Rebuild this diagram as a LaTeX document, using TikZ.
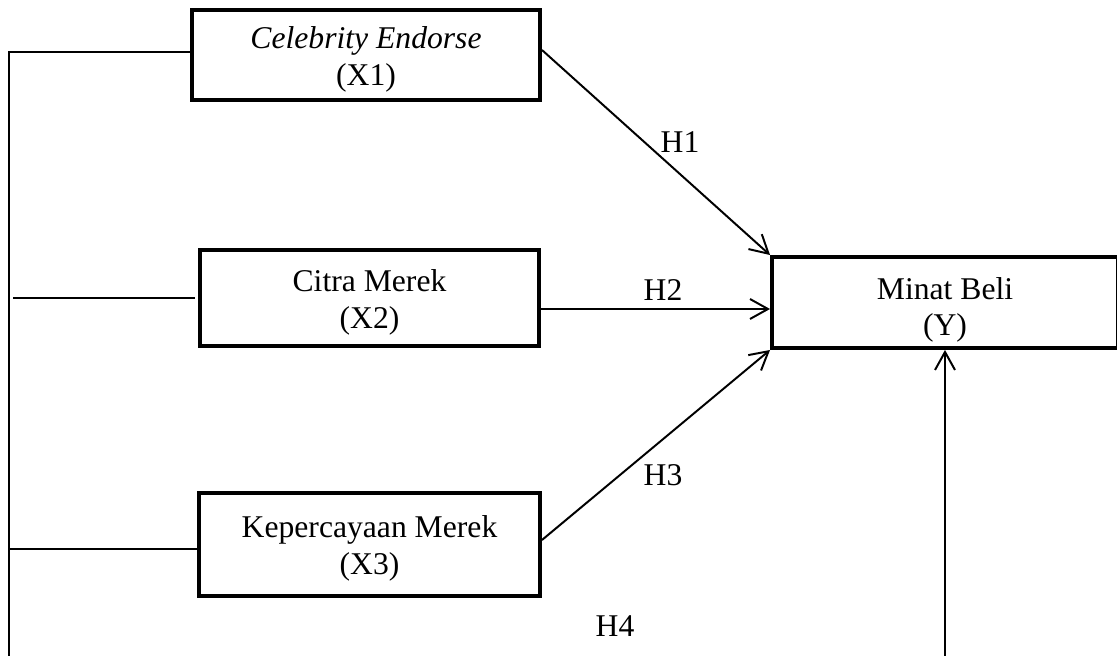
\documentclass[tikz,border=0pt]{standalone}
\usepackage{fontspec}
\setmainfont{Liberation Serif}
\usetikzlibrary{arrows.meta,calc}
\newcommand{\vartext}[3][0.12cm]{\raisebox{-#1}[\height][\depth]{\begin{tabular}{@{}c@{}}#2\\#3\end{tabular}}}
\begin{document}
\begin{tikzpicture}[x=0.025cm,y=-0.025cm,
    var/.style={draw,line width=2.8pt,rectangle,inner sep=0pt,
      font=\fontsize{22.5}{26.3}\selectfont},
    hyp/.style={font=\fontsize{22.5}{26.3}\selectfont},
    arr/.style={line width=1.4pt,-{Straight Barb[length=0.45cm,width=0.5cm,line width=1.4pt]}},
    con/.style={line width=1.4pt}]
    \clip (0,0) rectangle (1117,656);
    \node[var,minimum width=348*0.025cm,minimum height=90*0.025cm] (X1) at (366,55) {\vartext{\textit{Celebrity Endorse}}{(X1)}};
    \node[var,minimum width=339*0.025cm,minimum height=96*0.025cm] (X2) at (369.5,298) {\vartext{Citra Merek}{(X2)}};
    \node[var,minimum width=341*0.025cm,minimum height=103*0.025cm] (X3) at (369.5,544.5) {\vartext[0.1cm]{Kepercayaan Merek}{(X3)}};
    \node[var,minimum width=346*0.025cm,minimum height=91*0.025cm] (Y) at (945,302.5) {\vartext[0.19cm]{Minat Beli}{(Y)}};
    \coordinate (Ltop) at (9,52);
    \coordinate (Lbot) at (9,665);
    \coordinate (L3) at (9,549);
    \coordinate (Bot) at (945,665);
    \draw[con] (Lbot) -- (Ltop) -- (Ltop -| X1.west);
    \draw[con] ($(Ltop |- X2.west)+(4,0)$) -- ($(X2.west)+(-3,0)$);
    \draw[con] (L3) -- (L3 -| X3.west);
    \draw[arr] ($(X1.east)+(0,-5)$) -- (Y.north west);
    \draw[arr] (X2.east |- 0,309) -- (Y.west |- 0,309);
    \draw[arr] (X3.east |- 0,540) -- (Y.south west);
    \draw[arr] (Bot) -- (Y.south);
    \node[hyp] (H1) at (680,142) {H1};
    \node[hyp] (H2) at (663,290) {H2};
    \node[hyp] (H3) at (663,475) {H3};
    \node[hyp] (H4) at (615,626) {H4};
\end{tikzpicture}
\end{document}
